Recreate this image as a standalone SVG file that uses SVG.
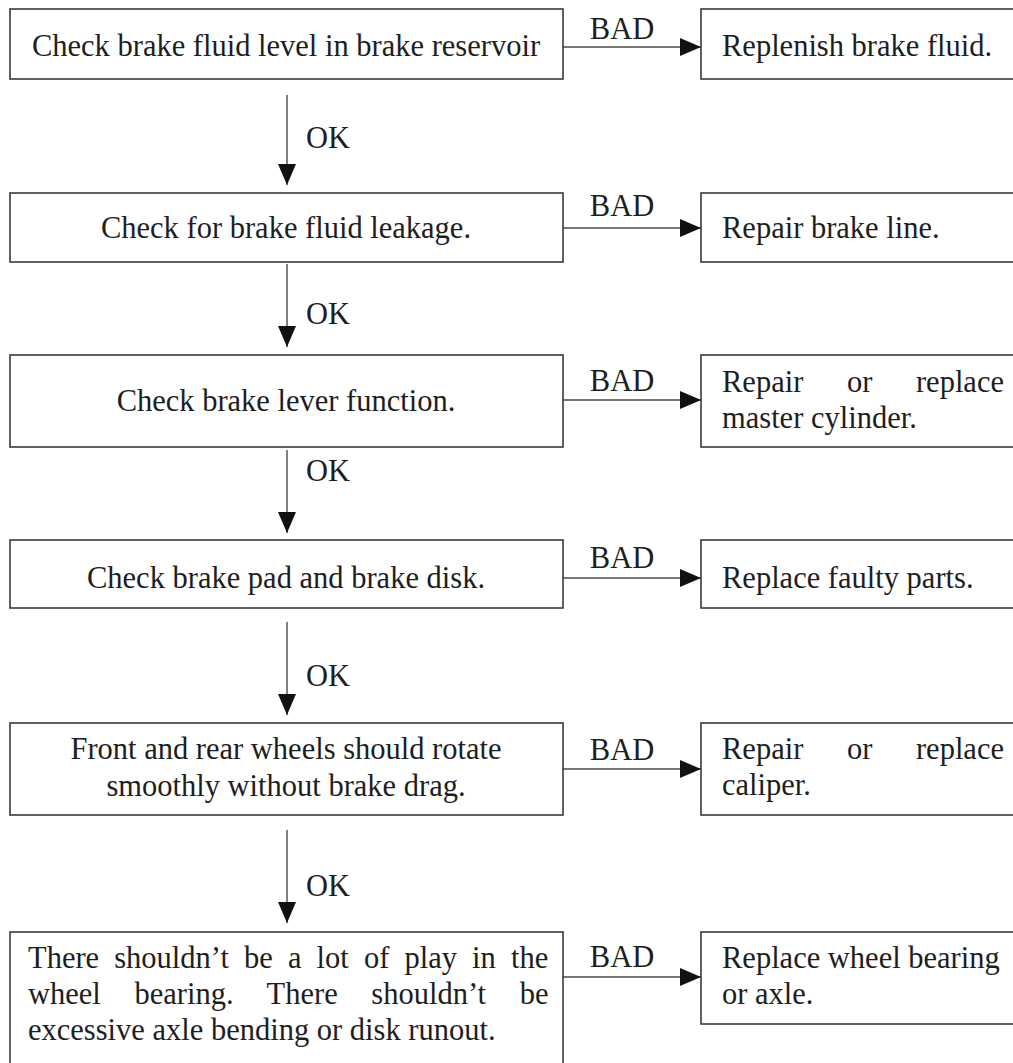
<svg xmlns="http://www.w3.org/2000/svg" width="1013" height="1063" viewBox="0 0 1013 1063">
<style>
.box{fill:#fff;stroke:#3a3a3a;stroke-width:1.6}
.t{font-family:"Liberation Serif","Times New Roman",serif;font-size:30.5px;fill:#1e1e1e}
.c{text-anchor:middle}
.ln{fill:none;stroke:#4a4a4a;stroke-width:1.4}
</style>
<defs>
<marker id="ah" markerUnits="userSpaceOnUse" markerWidth="21" markerHeight="18" refX="21" refY="9" orient="auto">
<path d="M0,0 L21,9 L0,18 Z" fill="#111"/>
</marker>
</defs>
<rect width="1013" height="1063" fill="#fff"/>
<g id="connectors">
<line class="ln" x1="563" y1="47" x2="701" y2="47" marker-end="url(#ah)"/>
<line class="ln" x1="563" y1="228" x2="701" y2="228" marker-end="url(#ah)"/>
<line class="ln" x1="563" y1="400" x2="701" y2="400" marker-end="url(#ah)"/>
<line class="ln" x1="563" y1="578" x2="701" y2="578" marker-end="url(#ah)"/>
<line class="ln" x1="563" y1="769" x2="701" y2="769" marker-end="url(#ah)"/>
<line class="ln" x1="563" y1="977" x2="701" y2="977" marker-end="url(#ah)"/>
<line class="ln" x1="287" y1="95" x2="287" y2="185" marker-end="url(#ah)"/>
<line class="ln" x1="287" y1="264" x2="287" y2="347" marker-end="url(#ah)"/>
<line class="ln" x1="287" y1="450" x2="287" y2="533" marker-end="url(#ah)"/>
<line class="ln" x1="287" y1="622" x2="287" y2="715" marker-end="url(#ah)"/>
<line class="ln" x1="287" y1="830" x2="287" y2="923" marker-end="url(#ah)"/>
<text class="t c" x="622" y="39">BAD</text>
<text class="t c" x="622" y="216">BAD</text>
<text class="t c" x="622" y="391">BAD</text>
<text class="t c" x="622" y="568">BAD</text>
<text class="t c" x="622" y="760">BAD</text>
<text class="t c" x="622" y="967">BAD</text>
<text class="t" x="306" y="148">OK</text>
<text class="t" x="306" y="324">OK</text>
<text class="t" x="306" y="481">OK</text>
<text class="t" x="306" y="686">OK</text>
<text class="t" x="306" y="896">OK</text>
</g>
<g id="n1">
<rect class="box" x="10" y="9" width="553" height="70"/>
<text class="t c" x="286" y="56">Check brake fluid level in brake reservoir</text>
</g>
<g id="r1">
<rect class="box" x="701" y="9" width="320" height="70"/>
<text class="t" x="722" y="56">Replenish brake fluid.</text>
</g>
<g id="n2">
<rect class="box" x="10" y="193" width="553" height="69"/>
<text class="t c" x="286" y="238">Check for brake fluid leakage.</text>
</g>
<g id="r2">
<rect class="box" x="701" y="193" width="320" height="69"/>
<text class="t" x="722" y="238">Repair brake line.</text>
</g>
<g id="n3">
<rect class="box" x="10" y="355" width="553" height="92"/>
<text class="t c" x="286" y="411">Check brake lever function.</text>
</g>
<g id="r3">
<rect class="box" x="701" y="355" width="320" height="92"/>
<text class="t" x="722" y="392" word-spacing="36">Repair or replace</text>
<text class="t" x="722" y="428">master cylinder.</text>
</g>
<g id="n4">
<rect class="box" x="10" y="540" width="553" height="68"/>
<text class="t c" x="286" y="588">Check brake pad and brake disk.</text>
</g>
<g id="r4">
<rect class="box" x="701" y="540" width="320" height="68"/>
<text class="t" x="722" y="588">Replace faulty parts.</text>
</g>
<g id="n5">
<rect class="box" x="10" y="723" width="553" height="92"/>
<text class="t c" x="286" y="759">Front and rear wheels should rotate</text>
<text class="t c" x="286" y="796">smoothly without brake drag.</text>
</g>
<g id="r5">
<rect class="box" x="701" y="723" width="320" height="92"/>
<text class="t" x="722" y="759" word-spacing="36">Repair or replace</text>
<text class="t" x="722" y="795">caliper.</text>
</g>
<g id="n6">
<rect class="box" x="10" y="932" width="553" height="140"/>
<text class="t" x="28" y="968" word-spacing="7.5">There shouldn’t be a lot of play in the</text>
<text class="t" x="28" y="1004" word-spacing="26">wheel bearing. There shouldn’t be</text>
<text class="t" x="28" y="1040">excessive axle bending or disk runout.</text>
</g>
<g id="r6">
<rect class="box" x="701" y="932" width="320" height="92"/>
<text class="t" x="722" y="968">Replace wheel bearing</text>
<text class="t" x="722" y="1004">or axle.</text>
</g>
</svg>
